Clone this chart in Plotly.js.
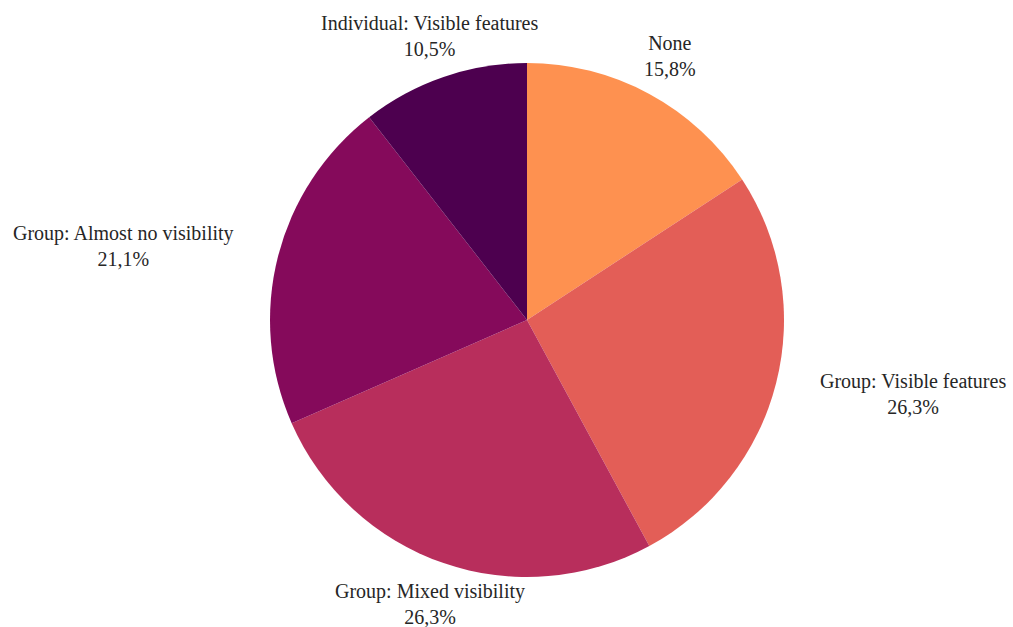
<!DOCTYPE html>
<html>
<head>
<meta charset="utf-8">
<script src="https://cdn.plot.ly/plotly-3.0.1.min.js"></script>
<style>html,body{margin:0;padding:0;background:#fff;}#chart{width:1013px;height:627px;}</style>
</head>
<body>
<div id="chart"></div>
<script>
const categories = ["None", "Group: Visible features", "Group: Mixed visibility", "Group: Almost no visibility", "Individual: Visible features"];
const counts = [3, 5, 5, 4, 2];
const colors = ["#fe9150", "#e35e57", "#b82e5c", "#850a5b", "#4d004f"];

const FONT = "Liberation Serif, Times New Roman, serif";
const labelDistance = 1.167;

// Compute label positions from the data (clockwise from 12 o'clock)
const total = counts.reduce((a, b) => a + b, 0);
let cum = 0;
const annotations = categories.map((cat, i) => {
  const frac = counts[i] / total;
  const mid = (cum + frac / 2) * 2 * Math.PI;
  cum += frac;
  const dx = Math.sin(mid), dy = Math.cos(mid);
  const pct = (frac * 100).toFixed(1).replace(".", ",") + "%";
  let xanchor = "center";
  if (dx > 0.7) xanchor = "left";
  else if (dx < -0.7) xanchor = "right";
  return {
    xref: "paper", yref: "paper",
    x: 0.5 + labelDistance * dx / 2,
    y: 0.5 + labelDistance * dy / 2,
    xanchor: xanchor, yanchor: "middle",
    align: "center",
    showarrow: false,
    text: cat + "<br>" + pct,
    font: {family: FONT, size: 20, color: "#262626"}
  };
});

Plotly.newPlot("chart", [{
  type: "pie",
  labels: categories,
  values: counts,
  sort: false,
  direction: "clockwise",
  rotation: 0,
  marker: {colors: colors, line: {width: 0}},
  textinfo: "none",
  automargin: false,
  showlegend: false,
  hoverinfo: "none",
  domain: {x: [0, 1], y: [0, 1]}
}], {
  width: 1013, height: 627,
  separators: ",.",
  margin: {l: 270, r: 229, t: 63, b: 50},
  paper_bgcolor: "#fff",
  font: {family: FONT, size: 20, color: "#262626"},
  annotations: annotations
}, {displayModeBar: false, staticPlot: true});
</script>
</body>
</html>
